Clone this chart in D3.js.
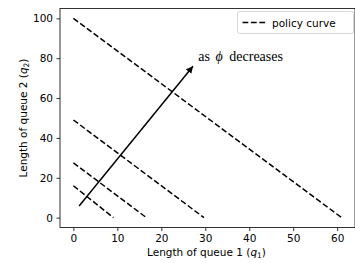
<!DOCTYPE html>
<html>
<head>
<meta charset="utf-8">
<script src="https://cdn.jsdelivr.net/npm/d3@7"></script>
<style>
  body { margin: 0; background: #fff; }
  svg { display: block; font-family: "DejaVu Sans", sans-serif; }
</style>
</head>
<body>
<svg id="chart" width="355" height="263"></svg>
<script>
// policy curves, each one a straight line from (0, q2) to (q1, 0)
const curveStartQ2 = [100, 49, 27.5, 16];
const curveEndQ1 = [61, 29.7, 16.6, 9.1];
const xTicks = [0, 10, 20, 30, 40, 50, 60];
const yTicks = [0, 20, 40, 60, 80, 100];
// arrow from, arrow to (data coords)
const arrowFrom = [1.3, 5.8];
const arrowTo = [27.2, 76];

const svg = d3.select("#chart");
const plotLeft = 60, plotRight = 355, plotTop = 8.4, plotBottom = 227.6;

const x = d3.scaleLinear().domain([-3.05, 64.05]).range([plotLeft, plotRight]);
const y = d3.scaleLinear().domain([-5, 105]).range([plotBottom, plotTop]);

// the dashed policy curves
const lineGen = d3.line().x(d => x(d[0])).y(d => y(d[1]));
curveStartQ2.forEach((q2, i) => {
  svg.append("path")
    .attr("d", lineGen([[0, q2], [curveEndQ1[i], 0]]))
    .attr("fill", "none")
    .attr("stroke", "#000")
    .attr("stroke-width", 1.5)
    .attr("stroke-dasharray", "5.8,2.6");
});

// arrow
svg.append("defs").append("marker")
  .attr("id", "head")
  .attr("viewBox", "0 0 10 10")
  .attr("refX", 10).attr("refY", 5)
  .attr("markerWidth", 7).attr("markerHeight", 7)
  .attr("markerUnits", "userSpaceOnUse")
  .attr("orient", "auto")
  .append("path")
  .attr("d", "M0,0 L10,5 L0,10 z")
  .attr("fill", "#000");

svg.append("line")
  .attr("x1", x(arrowFrom[0])).attr("y1", y(arrowFrom[1]))
  .attr("x2", x(arrowTo[0])).attr("y2", y(arrowTo[1]))
  .attr("stroke", "#000")
  .attr("stroke-width", 1.5)
  .attr("marker-end", "url(#head)");

// annotation, pieces placed where the mathtext put them
const note = svg.append("text")
  .attr("y", 60.5)
  .attr("font-family", "'Liberation Serif', 'DejaVu Serif', serif")
  .attr("font-size", 14)
  .attr("fill", "#000");
note.append("tspan").attr("x", 198.3).text("as");
note.append("tspan").attr("x", 215.5).attr("font-style", "italic").text("\u03D5");
note.append("tspan").attr("x", 229.3).text("decreases");

// axes
const xAxis = d3.axisBottom(x).tickValues(xTicks).tickSize(3.5).tickPadding(3.5);
const yAxis = d3.axisLeft(y).tickValues(yTicks).tickSize(3.5).tickPadding(3.5);

const gx = svg.append("g").attr("transform", `translate(0,${plotBottom})`).call(xAxis);
const gy = svg.append("g").attr("transform", `translate(${plotLeft},0)`).call(yAxis);
[gx, gy].forEach(g => {
  g.select(".domain").remove();
  g.selectAll("text").attr("font-size", 10.5).attr("font-family", "DejaVu Sans").attr("fill", "#000");
  g.selectAll("line").attr("stroke", "#000").attr("stroke-width", 0.8);
});

// frame
svg.append("rect")
  .attr("x", plotLeft).attr("y", plotTop)
  .attr("width", plotRight - plotLeft).attr("height", plotBottom - plotTop)
  .attr("fill", "none")
  .attr("stroke", "#000")
  .attr("stroke-width", 0.8);

// axis labels
const xl = svg.append("text")
  .attr("x", (plotLeft + plotRight) / 2 - 1).attr("y", 255.5)
  .attr("text-anchor", "middle")
  .attr("font-size", 10.5);
xl.append("tspan").text("Length of queue 1 (");
xl.append("tspan").attr("font-style", "italic").text("q");
xl.append("tspan").attr("font-size", 7.5).attr("dy", 2).text("1");
xl.append("tspan").attr("dy", -2).text(")");

const yl = svg.append("text")
  .attr("transform", `translate(27,${(plotTop + plotBottom) / 2}) rotate(-90)`)
  .attr("text-anchor", "middle")
  .attr("font-size", 10.5);
yl.append("tspan").text("Length of queue 2 (");
yl.append("tspan").attr("font-style", "italic").text("q");
yl.append("tspan").attr("font-size", 7.5).attr("dy", 2).text("2");
yl.append("tspan").attr("dy", -2).text(")");

// legend
const lg = svg.append("g");
lg.append("rect")
  .attr("x", 237.5).attr("y", 11.5)
  .attr("width", 116).attr("height", 22)
  .attr("rx", 2)
  .attr("fill", "#fff")
  .attr("stroke", "#ccc")
  .attr("stroke-width", 0.8);
lg.append("line")
  .attr("x1", 242.5).attr("x2", 266.5)
  .attr("y1", 22.5).attr("y2", 22.5)
  .attr("stroke", "#000")
  .attr("stroke-width", 1.5)
  .attr("stroke-dasharray", "5.8,2.6");
lg.append("text")
  .attr("x", 272).attr("y", 26.5)
  .attr("font-size", 10.5)
  .text("policy curve");
</script>
</body>
</html>
